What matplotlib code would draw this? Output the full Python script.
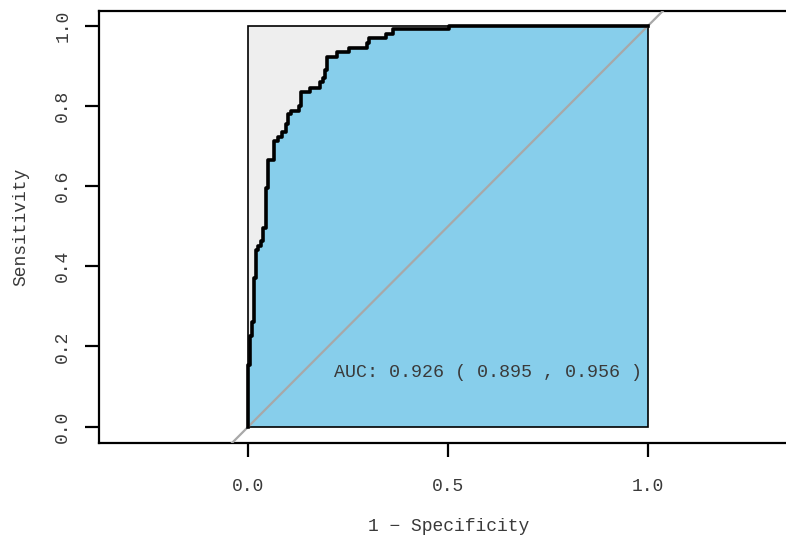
import matplotlib
matplotlib.use("Agg")
import matplotlib.pyplot as plt
from matplotlib.patches import Rectangle

# ROC step points: curve rises at the previous fpr, then moves right to this fpr
fpr = [0.0, 0.004, 0.0085, 0.014, 0.0185, 0.025, 0.031, 0.0375, 0.044, 0.05,
       0.065, 0.075, 0.0835, 0.094, 0.1, 0.107, 0.127, 0.132, 0.154, 0.179,
       0.186, 0.192, 0.198, 0.222, 0.252, 0.298, 0.302, 0.344, 0.362, 0.5025, 1.0]
tpr = [0.0, 0.155, 0.225, 0.26, 0.37, 0.44, 0.45, 0.463, 0.495, 0.595,
       0.666, 0.713, 0.723, 0.734, 0.755, 0.78, 0.788, 0.80, 0.834, 0.844,
       0.859, 0.869, 0.888, 0.921, 0.934, 0.944, 0.957, 0.969, 0.98, 0.991, 1.0]
auc_text = "AUC: 0.926 ( 0.895 , 0.956 )"

FONT = "Liberation Mono"
TXT = "#3a3a3a"

fig = plt.figure(figsize=(7.86, 5.36), dpi=100)
ax = fig.add_axes([99 / 786, 93 / 536, (797.5 - 99) / 786, 432.3 / 536])
ax.set_xlim(-0.373, 1.373)
ax.set_ylim(-0.0406, 1.037)

# grey max-auc box, then blue area under the curve
ax.add_patch(Rectangle((0, 0), 1, 1, facecolor="#EEEEEE", edgecolor="none", zorder=1))
ax.fill_between(fpr, tpr, 0, step="pre", facecolor="#87CEEB", edgecolor="none", zorder=2)
ax.add_patch(Rectangle((0, 0), 1, 1, facecolor="none", edgecolor="black", lw=1.2, zorder=3))

ax.axline((0, 0), (1, 1), color="#A8A8A8", lw=1.6, zorder=4)
ax.plot(fpr, tpr, drawstyle="steps-pre", color="black", lw=2.6, zorder=5)

ax.text(0.6, 0.135, auc_text, ha="center", va="center", fontsize=13.2,
        family=FONT, color=TXT, zorder=6)

for s in ["left", "bottom", "top"]:
    ax.spines[s].set_linewidth(1.6)
ax.spines["right"].set_visible(False)

ax.set_xticks([0, 0.5, 1.0])
ax.set_xticklabels(["0.0", "0.5", "1.0"], family=FONT, fontsize=13, color=TXT)
ax.set_yticks([0, 0.2, 0.4, 0.6, 0.8, 1.0])
ax.set_yticklabels(["0.0", "0.2", "0.4", "0.6", "0.8", "1.0"], family=FONT,
                   fontsize=13, color=TXT, rotation=90, va="center")
ax.tick_params(length=10, width=1.6)
ax.tick_params(axis="x", pad=15)
ax.tick_params(axis="y", pad=10)

ax.set_xlabel("1 − Specificity", family=FONT, fontsize=13, color=TXT, labelpad=17)
ax.set_ylabel("Sensitivity", family=FONT, fontsize=13, color=TXT, labelpad=18)

fig.savefig("out.png", dpi=100)
